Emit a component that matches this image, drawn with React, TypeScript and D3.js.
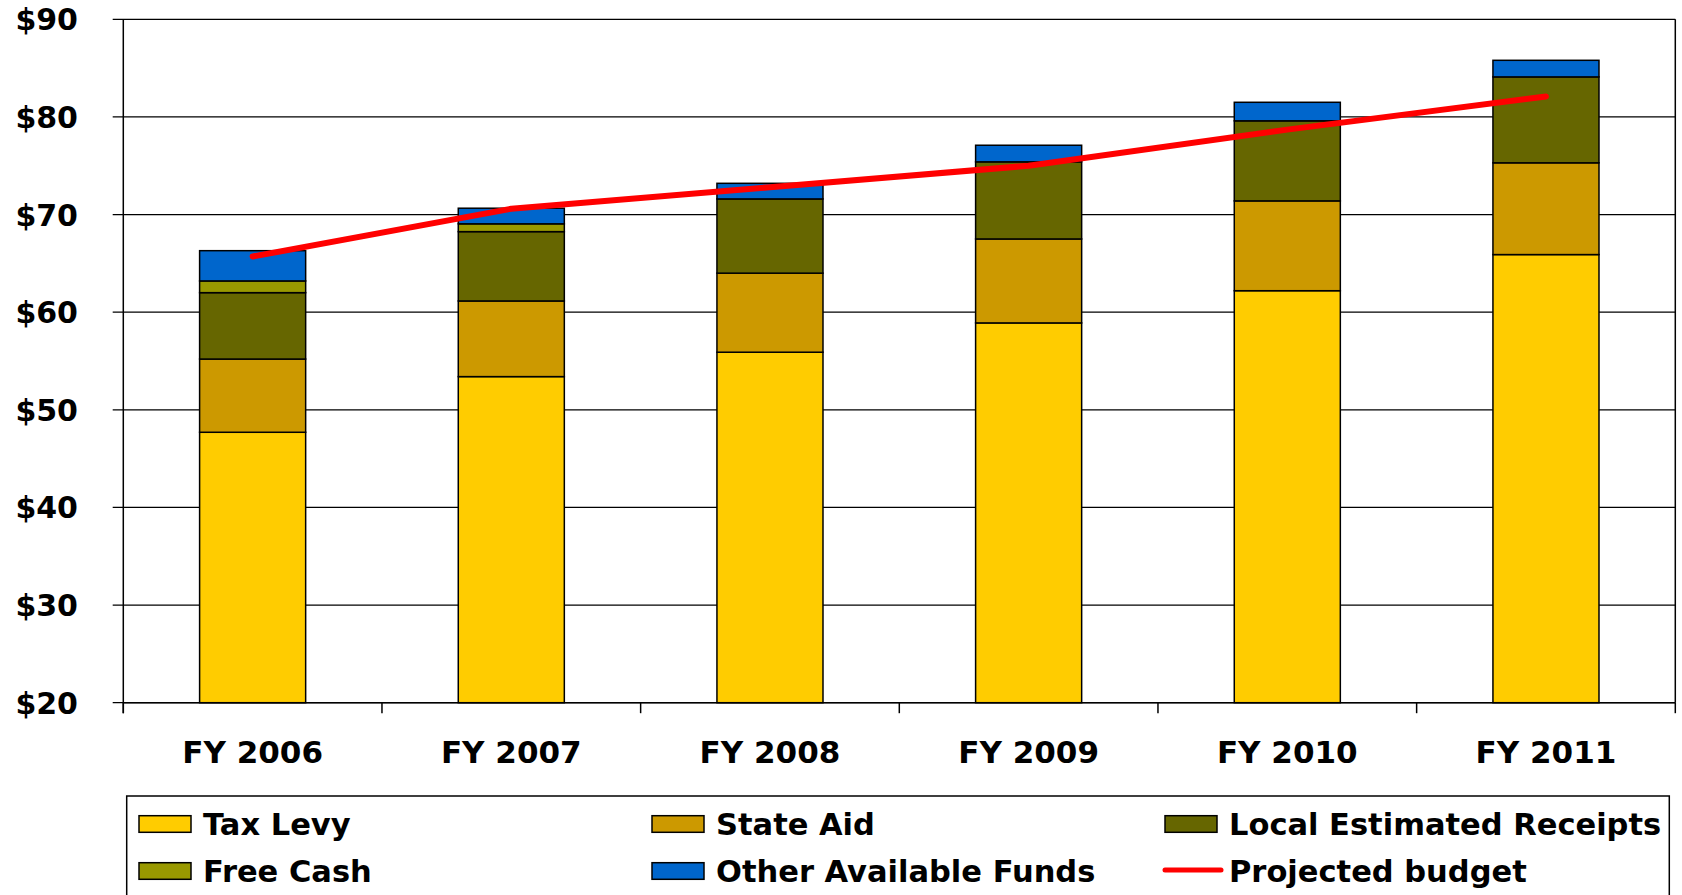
import React from "react";
import * as d3 from "d3";

const categories = ["FY 2006", "FY 2007", "FY 2008", "FY 2009", "FY 2010", "FY 2011"];
const taxLevy = [47.7, 53.4, 55.9, 58.9, 62.2, 65.9];
const stateAid = [7.5, 7.75, 8.1, 8.6, 9.2, 9.4];
const localReceipts = [6.8, 7.1, 7.6, 7.9, 8.2, 8.8];
const freeCash = [1.2, 0.8, 0, 0, 0, 0];
const otherFunds = [3.1, 1.6, 1.6, 1.7, 1.9, 1.7];
const projectedBudget = [65.7, 70.6, 72.8, 75.0, 78.7, 82.1];
const yTicks = [20, 30, 40, 50, 60, 70, 80, 90];

const seriesNames = ["Tax Levy", "State Aid", "Local Estimated Receipts", "Free Cash", "Other Available Funds"];
const seriesColors = ["#FFCC00", "#CC9900", "#666600", "#999900", "#0066CC"];
const lineName = "Projected budget";
const lineColor = "#FF0000";

export default function App() {
  const W = 1682, H = 895;
  const left = 123.3, right = 1675.3, top = 19.3, bottom = 702.7;
  const yMin = 20, yMax = 90;
  const x = d3.scaleBand<string>().domain(categories).range([left, right]).padding(0);
  const y = d3.scaleLinear().domain([yMin, yMax]).range([bottom, top]);
  const bw = x.bandwidth() * 0.41;

  const rows = categories.map((c, i) => ({
    cat: c,
    s0: taxLevy[i], s1: stateAid[i], s2: localReceipts[i], s3: freeCash[i], s4: otherFunds[i],
  }));
  const stack = d3.stack<any>().keys(["s0", "s1", "s2", "s3", "s4"]);
  const layers = stack(rows);

  const line = d3.line<number>()
    .x((_, i) => (x(categories[i]) as number) + x.bandwidth() / 2)
    .y((v) => y(v));

  const font = "'DejaVu Sans', Verdana, sans-serif";

  const legendItems = [
    { name: seriesNames[0], color: seriesColors[0], col: 0, row: 0, type: "rect" },
    { name: seriesNames[1], color: seriesColors[1], col: 1, row: 0, type: "rect" },
    { name: seriesNames[2], color: seriesColors[2], col: 2, row: 0, type: "rect" },
    { name: seriesNames[3], color: seriesColors[3], col: 0, row: 1, type: "rect" },
    { name: seriesNames[4], color: seriesColors[4], col: 1, row: 1, type: "rect" },
    { name: lineName, color: lineColor, col: 2, row: 1, type: "line" },
  ];
  const colX = [139, 652, 1165];
  const rowY = [824, 871];

  const boundaries = [...categories.map((c) => x(c) as number), right];

  return (
    <svg width={W} height={H} style={{ position: "absolute", left: 0, top: 0, display: "block" }}>
      <rect x={0} y={0} width={W} height={H} fill="#fff" />
      {yTicks.map((t) => (
        <line key={t} x1={left - 10.6} x2={right} y1={y(t)} y2={y(t)} stroke="#000" strokeWidth={1.3} />
      ))}
      {yTicks.map((t) => (
        <text key={"l" + t} x={78} y={y(t) + 11} textAnchor="end" fontFamily={font} fontWeight="bold" fontSize={30} fill="#000">
          {"$" + t}
        </text>
      ))}
      {layers.map((layer, li) =>
        layer.map((d, i) => {
          const lo = Math.max(d[0], yMin);
          const hi = Math.max(d[1], yMin);
          const h = y(lo) - y(hi);
          if (h <= 0.01) return null;
          return (
            <rect
              key={li + "-" + i}
              x={(x(categories[i]) as number) + (x.bandwidth() - bw) / 2}
              y={y(hi)}
              width={bw}
              height={h}
              fill={seriesColors[li]}
              stroke="#000"
              strokeWidth={1.5}
            />
          );
        })
      )}
      <line x1={left} x2={left} y1={top} y2={bottom + 10.5} stroke="#000" strokeWidth={1.5} />
      <line x1={right} x2={right} y1={top} y2={bottom} stroke="#000" strokeWidth={1.5} />
      <line x1={left} x2={right} y1={bottom} y2={bottom} stroke="#000" strokeWidth={1.5} />
      {boundaries.map((b, i) => (
        <line key={"t" + i} x1={b} x2={b} y1={bottom} y2={bottom + 10.5} stroke="#000" strokeWidth={1.5} />
      ))}
      {categories.map((c) => (
        <text key={c} x={(x(c) as number) + x.bandwidth() / 2} y={763} textAnchor="middle" fontFamily={font} fontWeight="bold" fontSize={31} fill="#000">
          {c}
        </text>
      ))}
      <path d={line(projectedBudget) || ""} fill="none" stroke={lineColor} strokeWidth={6} strokeLinecap="round" strokeLinejoin="round" />
      <rect x={126.7} y={796} width={1669.3 - 126.7} height={140} fill="#fff" stroke="#000" strokeWidth={1.5} />
      {legendItems.map((it) => (
        <g key={it.name}>
          {it.type === "rect" ? (
            <rect x={colX[it.col]} y={rowY[it.row] - 8.3} width={52} height={16.6} fill={it.color} stroke="#000" strokeWidth={1.5} />
          ) : (
            <line x1={colX[it.col]} x2={colX[it.col] + 56} y1={rowY[it.row] - 1} y2={rowY[it.row] - 1} stroke={it.color} strokeWidth={5} strokeLinecap="round" />
          )}
          <text x={colX[it.col] + 64} y={rowY[it.row] + 10.5} fontFamily={font} fontWeight="bold" fontSize={30.5} fill="#000">
            {it.name}
          </text>
        </g>
      ))}
    </svg>
  );
}
